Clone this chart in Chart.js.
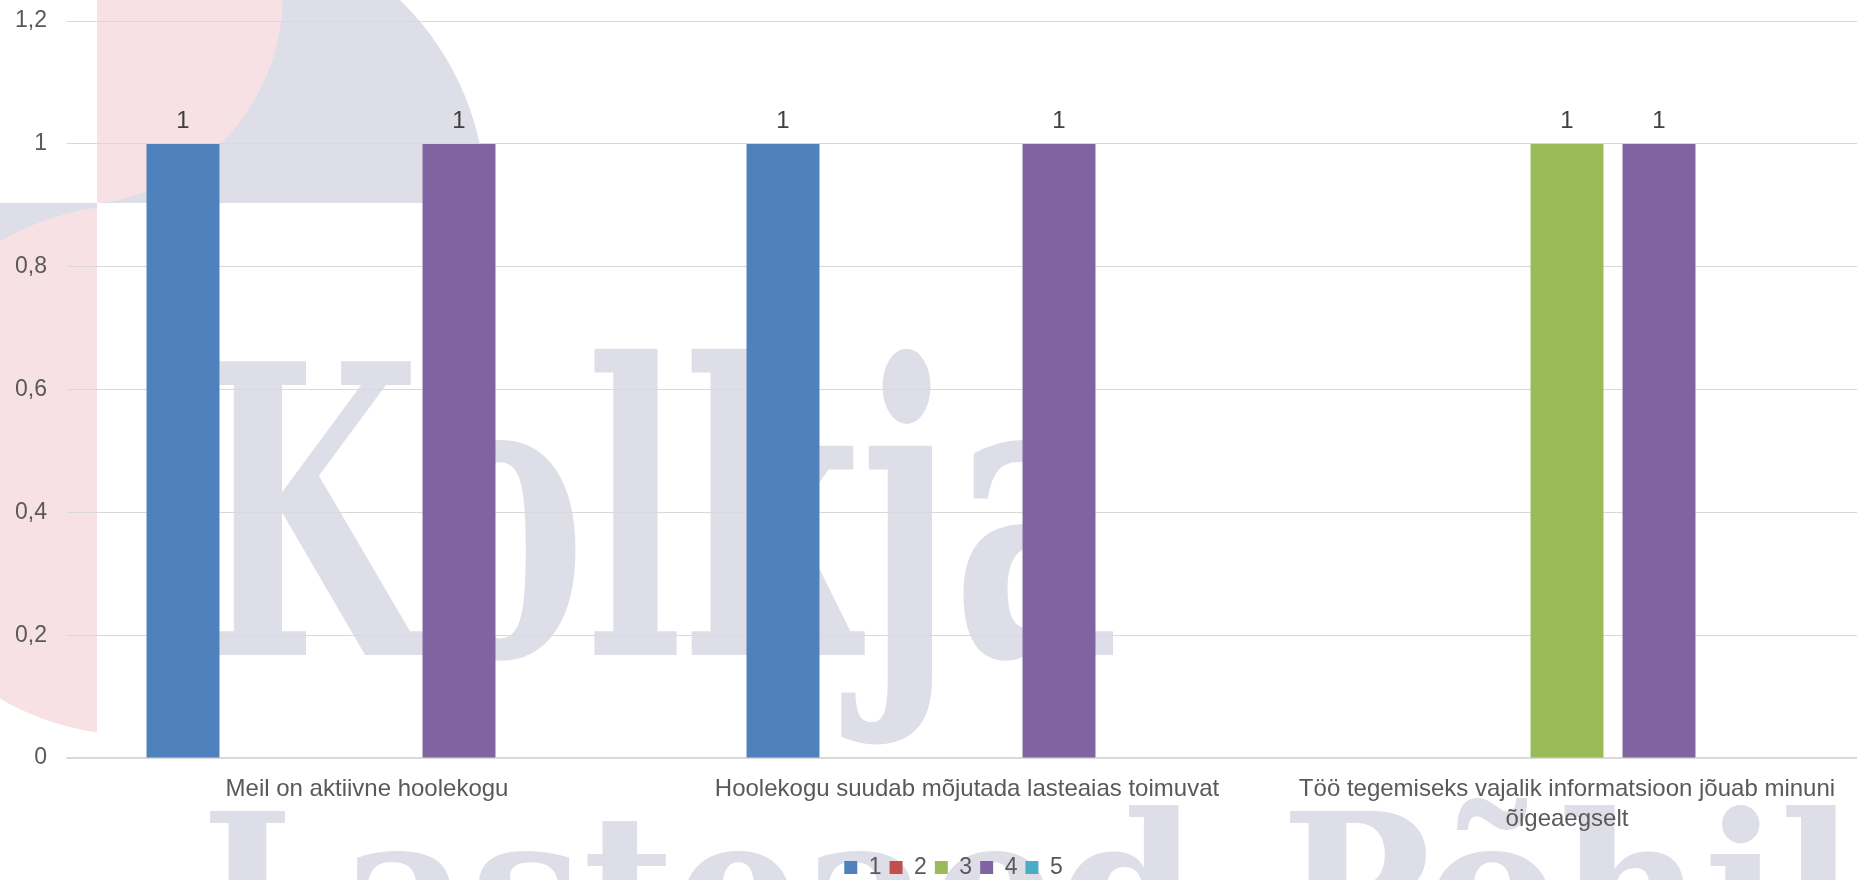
<!DOCTYPE html>
<html>
<head>
<meta charset="utf-8">
<script src="https://cdn.jsdelivr.net/npm/chart.js@4/dist/chart.umd.min.js"></script>
<style>
  html, body { margin: 0; padding: 0; background: #fff; overflow: hidden; }
  .tela { position: relative; width: 1867px; height: 889px; }
</style>
</head>
<body>
<div class="tela"><canvas id="grafico"></canvas></div>
<script>
// andmed
const categories = [
  'Meil on aktiivne hoolekogu',
  'Hoolekogu suudab mõjutada lasteaias toimuvat',
  ['Töö tegemiseks vajalik informatsioon jõuab minuni', 'õigeaegselt']
];
const seriesNames = ['1', '2', '3', '4', '5'];
const series1 = [1, 1, null];
const series2 = [null, null, null];
const series3 = [null, null, 1];
const series4 = [1, 1, 1];
const series5 = [null, null, null];
const yTicks = [0, 0.2, 0.4, 0.6, 0.8, 1, 1.2];

const colors = ['#4f81bd', '#c0504d', '#9bbb59', '#8064a2', '#4bacc6'];

function koma(v) {
  return String(Number(v.toFixed(1))).replace('.', ',');
}

// taustamärk (Kolkja logo ja tekst)
const taust = {
  id: 'taust',
  beforeDraw(chart) {
    const ctx = chart.ctx;
    const lav = '#dedee8', pink = '#f7e1e5';
    ctx.save();
    ctx.fillStyle = '#fff';
    ctx.fillRect(0, 0, chart.width, chart.height);

    ctx.save();
    ctx.beginPath(); ctx.rect(97, 0, 600, 203); ctx.clip();
    ctx.fillStyle = lav; ctx.beginPath(); ctx.arc(204, 203, 282, 0, Math.PI * 2); ctx.fill();
    ctx.fillStyle = pink; ctx.beginPath(); ctx.arc(72, -6, 211, 0, Math.PI * 2); ctx.fill();
    ctx.restore();

    ctx.save();
    ctx.beginPath(); ctx.rect(0, 203, 97, 700); ctx.clip();
    ctx.fillStyle = lav; ctx.fillRect(0, 203, 97, 60);
    ctx.fillStyle = pink; ctx.beginPath(); ctx.arc(134, 470, 265, 0, Math.PI * 2); ctx.fill();
    ctx.restore();

    ctx.fillStyle = lav;
    ctx.font = 'bold 400px "DejaVu Serif"';
    ctx.textAlign = 'left';
    ctx.textBaseline = 'alphabetic';
    const m = ctx.measureText('Kolkja');
    const capH = ctx.measureText('K').actualBoundingBoxAscent;
    const sx = 903 / (m.actualBoundingBoxLeft + m.actualBoundingBoxRight);
    const sy = 296 / capH;
    ctx.save();
    ctx.translate(210, 655);
    ctx.scale(sx, sy);
    ctx.fillText('Kolkja', m.actualBoundingBoxLeft, 0);
    ctx.restore();

    const m2 = ctx.measureText('Lasteaed-');
    const sx2 = 1080 / m2.width;
    const sy2 = 150 / capH;
    ctx.save();
    ctx.translate(210, 810 + 150);
    ctx.scale(sx2, sy2);
    ctx.fillText('Lasteaed-Põhikool', m2.actualBoundingBoxLeft, 0);
    ctx.restore();

    ctx.restore();
  },
  afterLayout(chart) {
    // legend veidi paremale nagu originaalis
    chart.legend.left += 40;
  }
};

// väärtused tulpade kohale
const sildid = {
  id: 'sildid',
  afterDatasetsDraw(chart) {
    const ctx = chart.ctx;
    ctx.save();
    ctx.font = '24px "Liberation Sans"';
    ctx.fillStyle = '#404040';
    ctx.textAlign = 'center';
    ctx.textBaseline = 'alphabetic';
    chart.data.datasets.forEach((ds, i) => {
      const meta = chart.getDatasetMeta(i);
      meta.data.forEach((bar, j) => {
        const v = ds.data[j];
        if (v == null) return;
        ctx.fillText(koma(v), bar.x, bar.y - 16);
      });
    });
    ctx.restore();
  }
};

Chart.defaults.font.family = '"Liberation Sans", Arial, sans-serif';
Chart.defaults.color = '#595959';

const allSeries = [series1, series2, series3, series4, series5];

new Chart(document.getElementById('grafico'), {
  type: 'bar',
  data: {
    labels: categories,
    datasets: allSeries.map((d, i) => ({
      label: seriesNames[i],
      data: d,
      backgroundColor: colors[i],
      borderWidth: 0,
      categoryPercentage: 0.7667,
      barPercentage: 0.793
    }))
  },
  options: {
    responsive: true,
    maintainAspectRatio: false,
    animation: false,
    layout: { padding: { left: 0, right: 0, top: 0, bottom: 0 } },
    plugins: {
      legend: {
        position: 'bottom',
        labels: {
          boxWidth: 13,
          boxHeight: 13,
          padding: 8,
          color: '#595959',
          font: { size: 23 }
        }
      },
      tooltip: { enabled: false }
    },
    scales: {
      x: {
        grid: { display: false, drawTicks: false },
        border: { display: true, color: '#d9d9d9', width: 1.5 },
        ticks: {
          maxRotation: 0,
          autoSkip: false,
          padding: 17,
          color: '#595959',
          font: { size: 24, lineHeight: 1.23 }
        },
        afterFit(s) { s.height = 90; }
      },
      y: {
        min: 0,
        max: 1.2,
        afterBuildTicks(s) { s.ticks = yTicks.map(v => ({ value: v })); },
        grid: { color: '#d9d9d9', lineWidth: 1, drawTicks: false },
        border: { display: false },
        ticks: {
          padding: 20,
          color: '#595959',
          font: { size: 23, lineHeight: 0.1 },
          callback: v => koma(v)
        },
        afterFit(s) { s.width = 67; }
      }
    }
  },
  plugins: [taust, sildid]
});
</script>
</body>
</html>
